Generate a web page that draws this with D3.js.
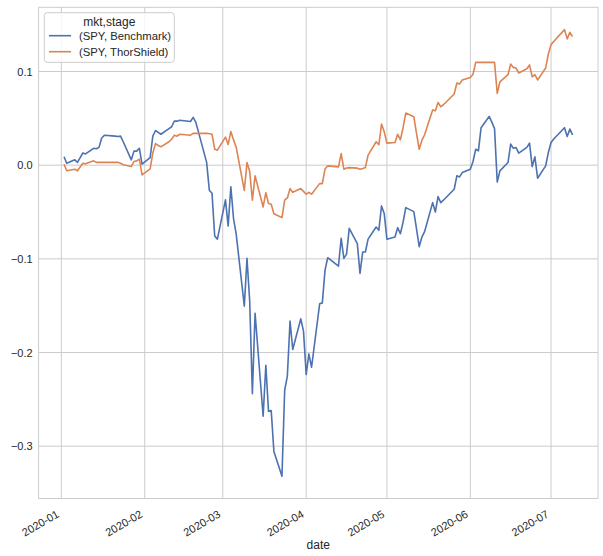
<!DOCTYPE html>
<html><head><meta charset="utf-8">
<script src="https://cdn.jsdelivr.net/npm/d3@7"></script>
<style>body{margin:0;background:#fff}svg{display:block}text{font-family:"Liberation Sans",Arial,sans-serif;fill:#262626}</style>
</head><body><svg id="c" width="603" height="556"></svg>
<script>
const dates = ["2020-01-02","2020-01-03","2020-01-06","2020-01-07","2020-01-08","2020-01-09","2020-01-10","2020-01-13","2020-01-14","2020-01-15","2020-01-16","2020-01-17","2020-01-21","2020-01-22","2020-01-23","2020-01-24","2020-01-27","2020-01-28","2020-01-29","2020-01-30","2020-01-31",
"2020-02-03","2020-02-04","2020-02-05","2020-02-06","2020-02-07","2020-02-10","2020-02-11","2020-02-12","2020-02-13","2020-02-14","2020-02-18","2020-02-19","2020-02-20","2020-02-21","2020-02-24","2020-02-25","2020-02-26","2020-02-27","2020-02-28",
"2020-03-02","2020-03-03","2020-03-04","2020-03-05","2020-03-06","2020-03-09","2020-03-10","2020-03-11","2020-03-12","2020-03-13","2020-03-16","2020-03-17","2020-03-18","2020-03-19","2020-03-20","2020-03-23","2020-03-24","2020-03-25","2020-03-26","2020-03-27","2020-03-30","2020-03-31",
"2020-04-01","2020-04-02","2020-04-03","2020-04-06","2020-04-07","2020-04-08","2020-04-09","2020-04-13","2020-04-14","2020-04-15","2020-04-16","2020-04-17","2020-04-20","2020-04-21","2020-04-22","2020-04-23","2020-04-24","2020-04-27","2020-04-28","2020-04-29","2020-04-30",
"2020-05-01","2020-05-04","2020-05-05","2020-05-06","2020-05-07","2020-05-08","2020-05-11","2020-05-12","2020-05-13","2020-05-14","2020-05-15","2020-05-18","2020-05-19","2020-05-20","2020-05-21","2020-05-22","2020-05-26","2020-05-27","2020-05-28","2020-05-29",
"2020-06-01","2020-06-02","2020-06-03","2020-06-04","2020-06-05","2020-06-08","2020-06-09","2020-06-10","2020-06-11","2020-06-12","2020-06-15","2020-06-16","2020-06-17","2020-06-18","2020-06-19","2020-06-22","2020-06-23","2020-06-24","2020-06-25","2020-06-26","2020-06-29","2020-06-30",
"2020-07-01","2020-07-02","2020-07-06","2020-07-07","2020-07-08","2020-07-09"];

const benchmark = [0.009,0.002,0.0057,0.003,0.008,0.013,0.012,0.018,0.0175,0.019,0.029,0.032,0.031,0.0306,0.031,0.025,0.0057,0.015,0.015,0.018,0.001,
0.008,0.031,0.037,0.035,0.033,0.039,0.041,0.047,0.047,0.048,0.0466,0.051,0.0456,0.035,0.003,-0.0267,-0.030,-0.0756,-0.079,
-0.037,-0.065,-0.023,-0.057,-0.0738,-0.1505,-0.0995,-0.145,-0.2439,-0.158,-0.268,-0.2136,-0.2628,-0.262,-0.3056,-0.332,-0.2403,-0.2253,-0.1665,-0.1968,-0.164,-0.1772,
-0.2235,-0.2015,-0.2157,-0.148,-0.147,-0.112,-0.0988,-0.1077,-0.078,-0.0995,-0.095,-0.0674,-0.0838,-0.1155,-0.0927,-0.0927,-0.079,-0.066,-0.0695,-0.0435,-0.0517,
-0.079,-0.0767,-0.0667,-0.0732,-0.061,-0.0453,-0.0496,-0.068,-0.087,-0.0767,-0.071,-0.040,-0.050,-0.0336,-0.040,-0.0374,-0.0257,-0.0114,-0.0125,-0.0079,
-0.0043,0.0039,0.017,0.0153,0.040,0.052,0.046,0.039,-0.0179,-0.0061,0.0028,0.0225,0.018,0.0188,0.0128,0.019,0.0235,-0.0015,0.0089,-0.0139,-0.0007,0.0135,
0.0242,0.028,0.040,0.0306,0.0385,0.0324];

const thorShield = [0.001,-0.006,-0.0043,-0.006,-0.002,0.002,0.0014,0.0046,0.003,0.003,0.003,0.003,0.003,0.003,0.002,0.0005,-0.0015,0.004,0.0046,0.0064,-0.0104,
-0.004,0.013,0.023,0.021,0.0196,0.025,0.0278,0.032,0.031,0.033,0.032,0.034,0.034,0.034,0.034,0.0335,0.033,0.017,0.016,
0.030,0.022,0.036,0.027,0.019,-0.027,0.0028,-0.0068,-0.0374,-0.0114,-0.0446,-0.0293,-0.041,-0.0417,-0.0518,-0.056,-0.0374,-0.035,-0.025,-0.029,-0.025,-0.028,
-0.031,-0.029,-0.031,-0.0197,-0.0197,-0.004,-0.0007,-0.0018,0.0124,-0.0043,-0.003,-0.0026,-0.0032,-0.0043,-0.0035,-0.0026,0.0107,0.025,0.0217,0.0439,0.0356,
0.0235,0.0242,0.033,0.027,0.040,0.0556,0.0517,0.034,0.017,0.0267,0.0324,0.059,0.058,0.067,0.0624,0.0645,0.076,0.0877,0.0866,0.091,
0.0937,0.097,0.1097,0.1097,0.1097,0.1097,0.1097,0.1097,0.0766,0.089,0.0966,0.108,0.1044,0.1037,0.0984,0.103,0.107,0.0944,0.0966,0.091,0.1037,0.1187,
0.1287,0.132,0.1447,0.1348,0.1418,0.1372];

const seriesNames = ["(SPY, Benchmark)", "(SPY, ThorShield)"];
const seriesColors = ["#4c72b0", "#dd8452"];
const yTicks = [-0.3, -0.2, -0.1, 0.0, 0.1];
const xTickLabels = ["2020-01","2020-02","2020-03","2020-04","2020-05","2020-06","2020-07"];
const legendTitle = "mkt,stage";
const xLabel = "date";

const parse = d3.timeParse("%Y-%m-%d");
const X = dates.map(parse);
const series = [benchmark, thorShield];

const svg = d3.select("#c");
const L = 38.6, R = 598, T = 7.3, B = 498.5;

const xMin = d3.min(X), xMax = d3.max(X);
const xs = (xMax - xMin) * 0.05;
const x = d3.scaleTime().domain([new Date(+xMin - xs), new Date(+xMax + xs)]).range([L, R]);
const allV = benchmark.concat(thorShield);
const yMin = d3.min(allV), yMax = d3.max(allV), ym = (yMax - yMin) * 0.05;
const y = d3.scaleLinear().domain([yMin - ym, yMax + ym]).range([B, T]);

const xTickDates = xTickLabels.map(s => parse(s + "-01"));

// grid
const g = svg.append("g");
g.selectAll(".gx").data(xTickDates).join("line")
  .attr("x1", d => x(d)).attr("x2", d => x(d)).attr("y1", T).attr("y2", B)
  .attr("stroke", "#cccccc").attr("stroke-width", 1);
g.selectAll(".gy").data(yTicks).join("line")
  .attr("y1", d => y(d)).attr("y2", d => y(d)).attr("x1", L).attr("x2", R)
  .attr("stroke", "#cccccc").attr("stroke-width", 1);

// lines
const line = d3.line().x((d, i) => x(X[i])).y(d => y(d));
series.forEach((s, k) => {
  svg.append("path").datum(s).attr("d", line).attr("fill", "none")
    .attr("stroke", seriesColors[k]).attr("stroke-width", 1.6).attr("stroke-linejoin", "round");
});

// frame
svg.append("rect").attr("x", L).attr("y", T).attr("width", R - L).attr("height", B - T)
  .attr("fill", "none").attr("stroke", "#cccccc").attr("stroke-width", 1);

// y axis
const yAxis = d3.axisLeft(y).tickValues(yTicks).tickSize(0).tickPadding(6)
  .tickFormat(d => d3.format(".1f")(d).replace("-", "\u2212"));
const ya = svg.append("g").attr("transform", `translate(${L},0)`).call(yAxis);
ya.select(".domain").remove();
ya.selectAll("text").style("font-size", "11px").style("font-family", '"Liberation Sans", Arial, sans-serif').attr("fill", "#262626");

// x axis
const xAxis = d3.axisBottom(x).tickValues(xTickDates).tickSize(0).tickPadding(0)
  .tickFormat((d, i) => xTickLabels[i]);
const xa = svg.append("g").attr("transform", `translate(0,${B})`).call(xAxis);
xa.select(".domain").remove();
xa.selectAll("text").style("font-size", "11px").style("font-family", '"Liberation Sans", Arial, sans-serif')
  .attr("fill", "#262626").attr("text-anchor", "end").attr("dy", null).attr("y", 0)
  .attr("transform", "translate(-2,18) rotate(-30)");

svg.append("text").attr("x", (L + R) / 2).attr("y", 549).attr("text-anchor", "middle")
  .style("font-size", "12px").text(xLabel);

// legend
const lg = svg.append("g");
lg.append("rect").attr("x", 44.3).attr("y", 12.7).attr("width", 130).attr("height", 49.6).attr("rx", 3)
  .attr("fill", "#fff").attr("fill-opacity", 0.8).attr("stroke", "#cccccc");
lg.append("text").attr("x", 109.3).attr("y", 25.5).attr("text-anchor", "middle").style("font-size", "12px").text(legendTitle);
seriesNames.forEach((n, k) => {
  const yy = 35.7 + k * 16;
  lg.append("line").attr("x1", 49).attr("x2", 71).attr("y1", yy).attr("y2", yy)
    .attr("stroke", seriesColors[k]).attr("stroke-width", 1.6);
  lg.append("text").attr("x", 79).attr("y", yy + 4).style("font-size", "11.3px").text(n);
});
</script></body></html>
